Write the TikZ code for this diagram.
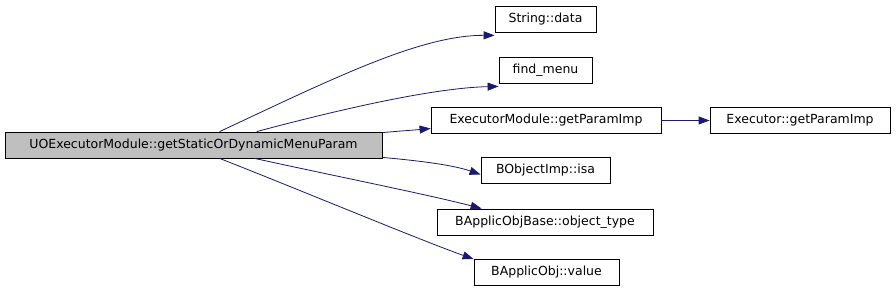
\documentclass[tikz,border=0pt]{standalone}
\usepackage{fontspec}
\setmainfont{DejaVu Sans}
\usepackage{tikz}
\usetikzlibrary{positioning, calc, arrows.meta}

\definecolor{edgeblue}{RGB}{25,25,112}
\definecolor{mainfill}{RGB}{191,191,191}

\tikzset{
    fnbox/.style={draw=black, line width=0.8pt, fill=white, inner sep=0pt,
        minimum height=26pt, font=\fontsize{12.5}{15}\selectfont},
    callarrow/.style={draw=edgeblue, line width=0.8pt,
        -{Triangle[length=11pt, width=8pt]}}
}

\begin{document}
\begin{tikzpicture}[x=1pt, y=-1pt]
    % Fix the page size
    \useasboundingbox (0,0) rectangle (896,291);

    % Draw caller
    \node[fnbox, fill=mainfill, minimum width=377pt] (caller) at (193.5,145) {UOExecutorModule::getStaticOrDynamicMenuParam};

    % Draw callees
    \node[fnbox, minimum width=101pt] (strdata) at (545.5,19) {String::data};
    \node[fnbox, minimum width=93pt] (findmenu) at (545.5,70) {find\_menu};
    \node[fnbox, minimum width=230pt] (modparam) at (546,120.5) {ExecutorModule::getParamImp};
    \node[fnbox, minimum width=180pt] (execparam) at (800,120.5) {Executor::getParamImp};
    \node[fnbox, minimum width=129pt] (isa) at (545.5,170.5) {BObjectImp::isa};
    \node[fnbox, minimum width=216pt] (objtype) at (545,222) {BApplicObjBase::object\_type};
    \node[fnbox, minimum width=145pt] (objvalue) at (546.5,272.5) {BApplicObj::value};

    % Draw calls
    \draw[callarrow] ([xshift=215pt]caller.north west) .. controls (330,80) and (420,35) .. ([yshift=-3pt]strdata.south west);
    \draw[callarrow] ([xshift=252pt]caller.north west) .. controls (330,112) and (430,88) .. ([yshift=-3pt]findmenu.south west);
    \draw[callarrow] ([yshift=-1pt]caller.north east) .. controls (400,131) and (415,130) .. ([yshift=-8pt]modparam.west);
    \draw[callarrow] (modparam.east) -- (execparam.west);
    \draw[callarrow] ([yshift=1pt]caller.south east) .. controls (410,160) and (450,164) .. ([yshift=-4pt]isa.west);
    \draw[callarrow] ([xshift=250pt]caller.south west) .. controls (330,175) and (430,195) .. ([xshift=45pt]objtype.north west);
    \draw[callarrow] ([xshift=215pt]caller.south west) .. controls (300,190) and (420,240) .. (objvalue.north west);
\end{tikzpicture}
\end{document}
